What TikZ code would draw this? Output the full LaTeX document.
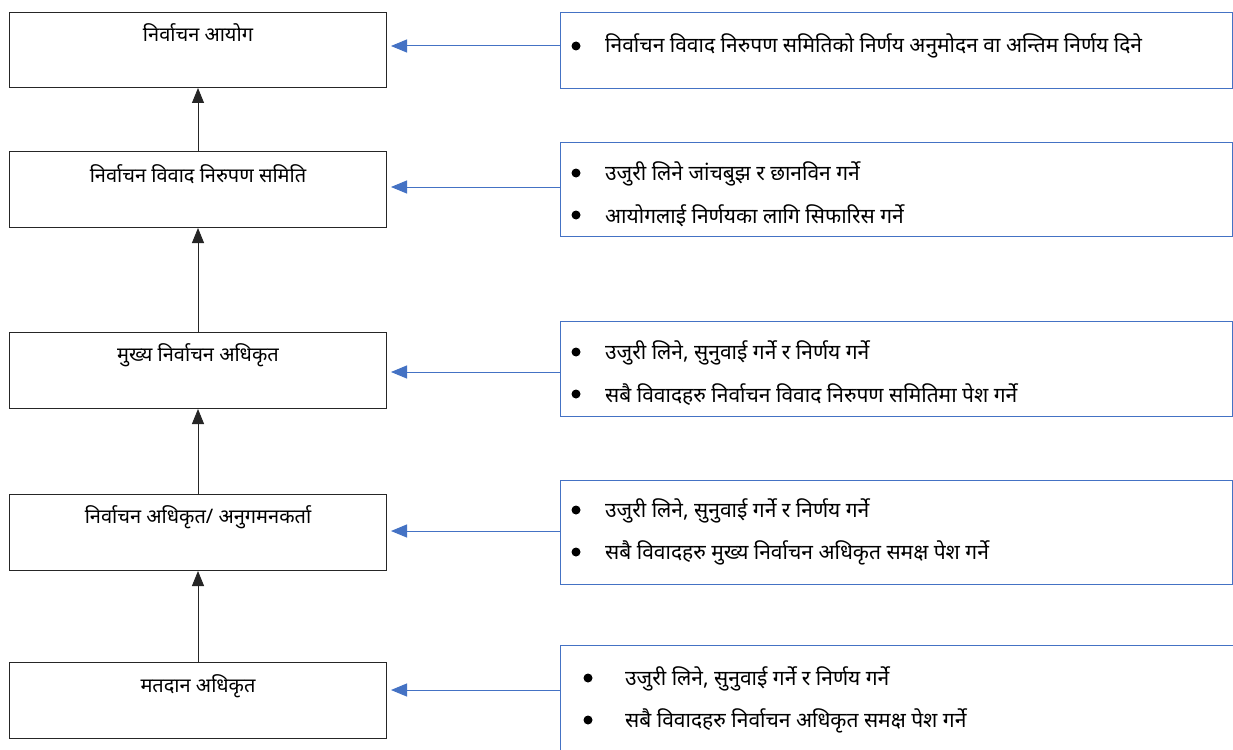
\documentclass[tikz,border=0pt]{standalone}
\usepackage{fontspec}
\newfontfamily\dev[Script=Devanagari]{Noto Sans}
\usetikzlibrary{arrows.meta}
\definecolor{ofblue}{HTML}{4472C4}
\begin{document}
\begin{tikzpicture}[x=1pt,y=-1pt,
  lbox/.style={draw=black!85,line width=1pt,anchor=north west,inner sep=0pt},
  rbox/.style={draw=ofblue,line width=1pt,anchor=north west,inner sep=0pt},
  title/.style={font=\dev\fontsize{20}{24}\selectfont,inner sep=0pt},
  item/.style={font=\dev\fontsize{21}{25}\selectfont,anchor=west,inner sep=0pt},
  bul/.style={circle,fill=black,inner sep=0pt,minimum size=9pt},
  blk/.style={draw=black!85,line width=0.9pt,-{Triangle[length=15pt,width=12pt]}},
  bl/.style={draw=ofblue,line width=1pt,-{Triangle[length=16pt,width=13pt]},shorten >=4pt}]
\useasboundingbox[fill=white] (0,0) rectangle (1233,749);
% left boxes
\node[lbox,minimum width=377pt,minimum height=75pt] (L1) at (9,12) {};
\node[lbox,minimum width=377pt,minimum height=76pt] (L2) at (9,151) {};
\node[lbox,minimum width=377pt,minimum height=76pt] (L3) at (9,332) {};
\node[lbox,minimum width=377pt,minimum height=76pt] (L4) at (9,494) {};
\node[lbox,minimum width=377pt,minimum height=76pt] (L5) at (9,662) {};
\node[title] (T1) at (198,33) {निर्वाचन आयोग};
\node[title] (T2) at (198,174) {निर्वाचन विवाद निरुपण समिति};
\node[title] (T3) at (198,355) {मुख्य निर्वाचन अधिकृत};
\node[title] (T4) at (198,517) {निर्वाचन अधिकृत/ अनुगमनकर्ता};
\node[title] (T5) at (198,686) {मतदान अधिकृत};
% right boxes
\node[rbox,minimum width=672pt,minimum height=76pt] (R1) at (560,12) {};
\node[rbox,minimum width=672pt,minimum height=94pt] (R2) at (560,142) {};
\node[rbox,minimum width=672pt,minimum height=95pt] (R3) at (560,321) {};
\node[rbox,minimum width=672pt,minimum height=104pt] (R4) at (560,480) {};
\node[rbox,minimum width=690pt,minimum height=115pt] (R5) at (560,645) {};
% bullets and items
\node[bul] (B11) at (576,46) {};
\node[item] (I11) at (605,46) {निर्वाचन विवाद निरुपण समितिको निर्णय अनुमोदन वा अन्तिम निर्णय दिने};
\node[bul] (B21) at (576,173) {};
\node[item] (I21) at (605,174) {उजुरी लिने जांचबुझ र छानविन गर्ने};
\node[bul] (B22) at (576,215) {};
\node[item] (I22) at (605,216) {आयोगलाई निर्णयका लागि सिफारिस गर्ने};
\node[bul] (B31) at (576,352) {};
\node[item] (I31) at (605,353) {उजुरी लिने, सुनुवाई गर्ने र निर्णय गर्ने};
\node[bul] (B32) at (576,394) {};
\node[item] (I32) at (605,395) {सबै विवादहरु निर्वाचन विवाद निरुपण समितिमा पेश गर्ने};
\node[bul] (B41) at (576,510) {};
\node[item] (I41) at (605,511) {उजुरी लिने, सुनुवाई गर्ने र निर्णय गर्ने};
\node[bul] (B42) at (576,552) {};
\node[item] (I42) at (605,553) {सबै विवादहरु मुख्य निर्वाचन अधिकृत समक्ष पेश गर्ने};
\node[bul] (B51) at (588,678) {};
\node[item] (I51) at (625,679) {उजुरी लिने, सुनुवाई गर्ने र निर्णय गर्ने};
\node[bul] (B52) at (588,720) {};
\node[item] (I52) at (625,721) {सबै विवादहरु निर्वाचन अधिकृत समक्ष पेश गर्ने};
% black arrows
\draw[blk] (L2.north) -- (L1.south);
\draw[blk] (L3.north) -- (L2.south);
\draw[blk] (L4.north) -- (L3.south);
\draw[blk] (L5.north) -- (L4.south);
% blue arrows
\coordinate (A1) at (0,46);
\coordinate (A2) at (0,187);
\coordinate (A3) at (0,372);
\coordinate (A4) at (0,531);
\coordinate (A5) at (0,690);
\draw[bl] (R1.west|-A1) -- (L1.east|-A1);
\draw[bl] (R2.west|-A2) -- (L2.east|-A2);
\draw[bl] (R3.west|-A3) -- (L3.east|-A3);
\draw[bl] (R4.west|-A4) -- (L4.east|-A4);
\draw[bl] (R5.west|-A5) -- (L5.east|-A5);
\end{tikzpicture}
\end{document}
